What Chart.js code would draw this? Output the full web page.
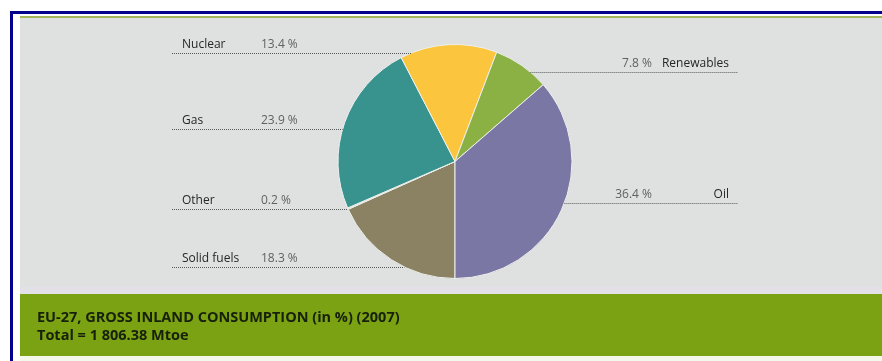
<!DOCTYPE html>
<html>
<head>
<meta charset="utf-8">
<script src="https://cdn.jsdelivr.net/npm/chart.js@4/dist/chart.umd.min.js"></script>
<style>
  html, body { margin: 0; padding: 0; background: #ffffff; }
  #wrap { position: relative; width: 882px; height: 361px; overflow: hidden; }
  canvas { display: block; }
</style>
</head>
<body>
<div id="wrap"><canvas id="c" width="882" height="361"></canvas></div>
<script>
// Energy sources, in drawing order (clockwise from the bottom of the pie)
const categories = ['Solid fuels', 'Other', 'Gas', 'Nuclear', 'Renewables', 'Oil'];
const shares = [18.3, 0.2, 23.9, 13.4, 7.8, 36.4];
const sliceColors = ['#8a8262', '#e4e0cc', '#38938e', '#fbc63d', '#8bb145', '#7a77a4'];

const titleLine1 = 'EU-27, GROSS INLAND CONSUMPTION (in %) (2007)';
const titleLine2 = 'Total = 1 806.38 Mtoe';

// Where each callout row sits (side of the pie and baseline of its leader line)
const calloutLayout = {
  'Nuclear':     { side: 'left',  lineY: 53 },
  'Gas':         { side: 'left',  lineY: 129 },
  'Other':       { side: 'left',  lineY: 209 },
  'Solid fuels': { side: 'left',  lineY: 267 },
  'Renewables':  { side: 'right', lineY: 72 },
  'Oil':         { side: 'right', lineY: 203 }
};

const labelFont = '12px "Open Sans", "Noto Sans", sans-serif';
const titleFont = 'bold 14.5px "Open Sans", "Noto Sans", sans-serif';

// Page frame: blue border, grey panel, green caption band
const framePlugin = {
  id: 'frame',
  beforeDraw(chart) {
    const ctx = chart.ctx;
    const W = chart.width, H = chart.height;
    ctx.save();
    ctx.fillStyle = '#ffffff';
    ctx.fillRect(0, 0, W, H);
    // blue outer frame (top and left visible)
    ctx.fillStyle = '#02028c';
    ctx.fillRect(10, 11, W - 10, 3);
    ctx.fillRect(10, 11, 3, H - 11);
    // grey panel
    ctx.fillStyle = '#dfe1e0';
    ctx.fillRect(20, 18, W - 20, 269);
    // olive rule on top of the panel
    ctx.fillStyle = '#a3b65a';
    ctx.fillRect(20, 16, W - 20, 2);
    // pale lavender strip
    ctx.fillStyle = '#e3e0e8';
    ctx.fillRect(20, 287, W - 20, 7);
    // green caption band
    ctx.fillStyle = '#7ba212';
    ctx.fillRect(20, 294, W - 20, 62);
    ctx.fillStyle = '#f4f8ea';
    ctx.fillRect(20, 356, W - 20, H - 356);
    ctx.restore();
  },
  afterDraw(chart) {
    const ctx = chart.ctx;
    ctx.save();
    ctx.fillStyle = '#17200a';
    ctx.font = titleFont;
    ctx.textBaseline = 'alphabetic';
    ctx.textAlign = 'left';
    ctx.fillText(titleLine1, 37, 322);
    ctx.fillText(titleLine2, 37, 340);
    ctx.restore();
  }
};

// Callout labels with dotted leader lines that run to the pie's rim
const calloutPlugin = {
  id: 'callouts',
  afterDatasetsDraw(chart) {
    const ctx = chart.ctx;
    const meta = chart.getDatasetMeta(0);
    const arc = meta.data[0];
    const cx = arc.x, cy = arc.y, r = arc.outerRadius;
    const ds = chart.data.datasets[0];
    ctx.save();
    ctx.font = labelFont;
    ctx.textBaseline = 'alphabetic';
    chart.data.labels.forEach((name, i) => {
      const pos = calloutLayout[name];
      if (!pos) return;
      const y = pos.lineY;
      const dy = y - cy;
      const half = Math.sqrt(Math.max(r * r - dy * dy, 0));
      const valueText = ds.data[i].toFixed(1) + ' %';
      ctx.strokeStyle = '#555a58';
      ctx.lineWidth = 1;
      ctx.setLineDash([1, 1]);
      ctx.beginPath();
      if (pos.side === 'left') {
        ctx.moveTo(172, y + 0.5);
        ctx.lineTo(cx - half, y + 0.5);
      } else {
        ctx.moveTo(cx + half, y + 0.5);
        ctx.lineTo(738, y + 0.5);
      }
      ctx.stroke();
      ctx.setLineDash([]);
      if (pos.side === 'left') {
        ctx.textAlign = 'left';
        ctx.fillStyle = '#262626';
        ctx.fillText(name, 182, y - 5);
        ctx.fillStyle = '#606262';
        ctx.fillText(valueText, 261, y - 5);
      } else {
        ctx.textAlign = 'right';
        ctx.fillStyle = '#262626';
        ctx.fillText(name, 729, y - 5);
        ctx.fillStyle = '#606262';
        ctx.fillText(valueText, 652, y - 5);
      }
    });
    ctx.restore();
  }
};

new Chart(document.getElementById('c'), {
  type: 'pie',
  data: {
    labels: categories,
    datasets: [{
      data: shares,
      backgroundColor: sliceColors,
      borderColor: '#eef0ee',
      borderWidth: 1
    }]
  },
  options: {
    responsive: false,
    animation: false,
    rotation: 180,
    layout: { padding: { left: 337, right: 309, top: 44, bottom: 82 } },
    plugins: {
      legend: { display: false },
      tooltip: { enabled: false }
    }
  },
  plugins: [framePlugin, calloutPlugin]
});
</script>
</body>
</html>
